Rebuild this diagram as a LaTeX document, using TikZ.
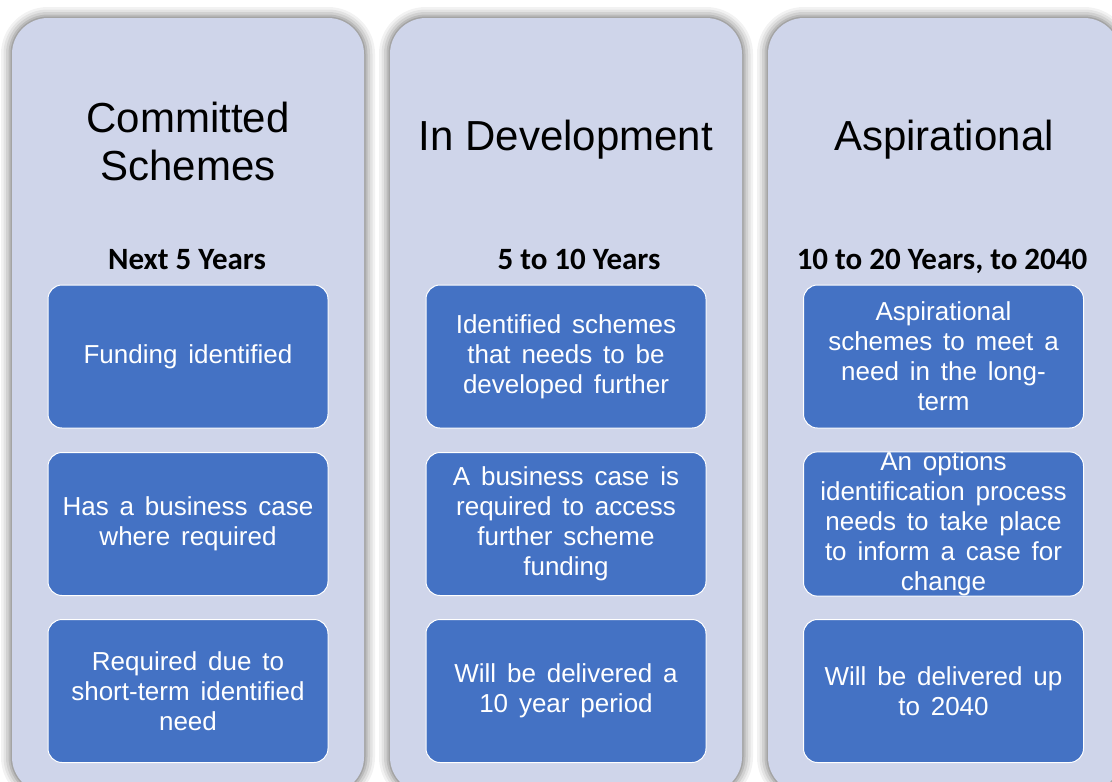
\documentclass[tikz,border=0pt]{standalone}
\usepackage{fontspec}
\setmainfont{Liberation Sans}
\newfontfamily\bodyfont[WordSpace=1.5]{Liberation Sans}
\newfontfamily\subfont{Carlito}
\definecolor{lav}{HTML}{CFD5EA}
\definecolor{blu}{HTML}{4472C4}
\begin{document}
\begin{tikzpicture}[x=1pt,y=-1pt,
  panel/.style={fill=lav, rounded corners=36pt},
  panelshadow/.style={draw=black, rounded corners=36pt},
  card/.style={draw=white, line width=1pt, fill=blu, rounded corners=14pt,
    minimum width=280pt, minimum height=143pt, inner sep=0pt, align=center,
    text=white, font=\bodyfont\fontsize{26}{30}\selectfont},
  title/.style={align=center, text=black, font=\fontsize{42}{48}\selectfont},
  sub/.style={anchor=base, text=black, font=\subfont\bfseries\fontsize{31}{36}\selectfont}]
\useasboundingbox (0,0) rectangle (1112,782);
\clip (0,0) rectangle (1112,782);
\fill[white] (0,0) rectangle (1112,782);
% panels with soft shadow
\foreach \px in {12,390,768}{
  \foreach \w/\o in {22/0.05,17/0.06,12/0.08,7/0.1,3/0.12}{
    \draw[panelshadow, line width=\w pt, opacity=\o] (\px,18) rectangle ++(352,775);
  }
  \fill[panel] (\px,18) rectangle ++(352,775);
}
% titles
\node[title] (t1) at (188,141) {Committed\\Schemes};
\node[title] (t2) at (566,140) {In Development};
\node[title] (t3) at (944,140) {Aspirational};
% subtitles
\node[sub] (s1) at (187,269) {Next 5 Years};
\node[sub] (s2) at (579,269) {5 to 10 Years};
\node[sub] (s3) at (942,269) {10 to 20 Years, to 2040};
% column 1
\node[card] (c11) at (188,356.5) {Funding identified};
\node[card] (c12) at (188,524) {Has a business case\\where required};
\node[card] (c13) at (188,691) {Required due to\\short-term identified\\need};
% column 2
\node[card] (c21) at (566,356.5) {Identified schemes\\that needs to be\\developed further};
\node[card] (c22) at (566,524) {A business case is\\required to access\\further scheme\\funding};
\node[card] (c23) at (566,691) {Will be delivered a\\10 year period};
% column 3
\node[card] (c31) at (943.5,356.5) {Aspirational\\schemes to meet a\\need in the long-\\term};
\node[card] (c32) at (943.5,524) {An options\\identification process\\needs to take place\\to inform a case for\\change};
\node[card] (c33) at (943.5,691) {Will be delivered up\\to 2040};
\end{tikzpicture}
\end{document}
